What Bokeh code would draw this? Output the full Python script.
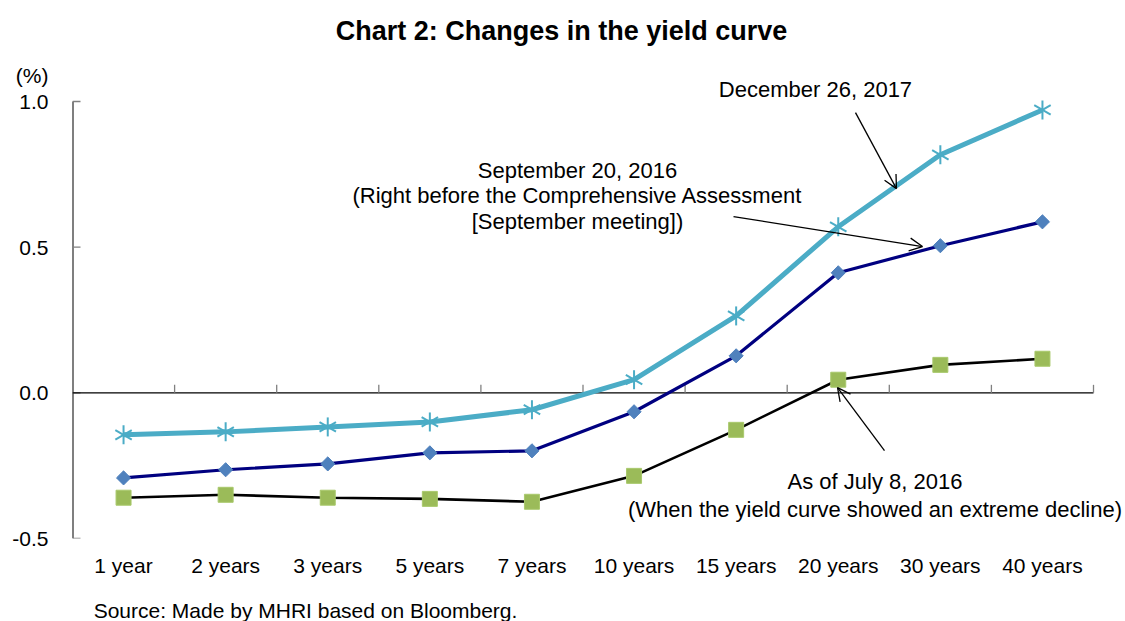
import math
from bokeh.plotting import figure
from bokeh.models import (Range1d, FixedTicker, Label, Arrow, OpenHead, LinearAxis)
from bokeh.embed import file_html
from bokeh.resources import INLINE

# ---------------- data ----------------
categories = ["1 year", "2 years", "3 years", "5 years", "7 years",
              "10 years", "15 years", "20 years", "30 years", "40 years"]
dec_2017 = [-0.144, -0.134, -0.117, -0.100, -0.058, 0.045, 0.264, 0.570, 0.817, 0.971]
sep_2016 = [-0.292, -0.264, -0.244, -0.206, -0.199, -0.065, 0.127, 0.412, 0.505, 0.587]
jul_2016 = [-0.360, -0.350, -0.360, -0.364, -0.374, -0.285, -0.127, 0.045, 0.096, 0.117]
y_ticks = [-0.5, 0.0, 0.5, 1.0]
y_tick_labels = ["-0.5", "0.0", "0.5", "1.0"]
y_unit = "(%)"
title_text = "Chart 2: Changes in the yield curve"
source_text = "Source: Made by MHRI based on Bloomberg."

FONT = "Liberation Sans"
n = len(categories)
xs = list(range(1, n + 1))

# layout constants (pixels)
PX_PER_X = 102.1          # one category
PX_PER_Y = 291.33         # one percentage point
FRAME_TOP_PAD = 101       # pixels above y = 1.0 inside the frame
RIGHT_PAD = 30            # pixels right of the last category boundary

y_max = y_ticks[-1] + FRAME_TOP_PAD / PX_PER_Y
x_max = n + 0.5 + RIGHT_PAD / PX_PER_X
frame_w = int(round((x_max - 0.5) * PX_PER_X))
frame_h = int(round((y_max - y_ticks[0]) * PX_PER_Y))

p = figure(frame_width=frame_w, frame_height=frame_h,
           x_range=Range1d(0.5, x_max), y_range=Range1d(y_ticks[0], y_max),
           output_backend="svg", toolbar_location=None, title="",
           min_border_left=72, min_border_right=0,
           min_border_top=0, min_border_bottom=0)
p.outline_line_color = None
p.grid.grid_line_color = None
p.background_fill_color = "white"
p.border_fill_color = "white"

# y axis: labels from the axis, axis line / ticks drawn from the tick values
unit_pos = y_ticks[-1] + (FRAME_TOP_PAD - 75) / PX_PER_Y
p.yaxis.ticker = FixedTicker(ticks=y_ticks + [unit_pos])
overrides = {t: l for t, l in zip(y_ticks, y_tick_labels)}
overrides[unit_pos] = y_unit
p.yaxis.major_label_overrides = overrides
p.yaxis.major_tick_line_color = None
p.yaxis.minor_tick_line_color = None
p.yaxis.axis_line_color = None
p.yaxis.major_tick_out = 0
p.yaxis.major_tick_in = 0
p.yaxis.major_label_standoff = 24
p.yaxis.major_label_text_font = FONT
p.yaxis.major_label_text_font_size = "21px"
p.yaxis.major_label_text_color = "black"

p.segment(x0=[0.5], x1=[0.5], y0=[y_ticks[0]], y1=[y_ticks[-1]],
          line_color="black", line_width=2)
p.segment(x0=[0.5] * len(y_ticks), x1=[0.5 + 8 / PX_PER_X] * len(y_ticks),
          y0=y_ticks, y1=y_ticks, line_color="#808080", line_width=1.3)

# x axis (category labels at the bottom)
p.xaxis.ticker = FixedTicker(ticks=xs)
p.xaxis.major_label_overrides = {x: c for x, c in zip(xs, categories)}
p.xaxis.axis_line_color = None
p.xaxis.major_tick_line_color = None
p.xaxis.minor_tick_line_color = None
p.xaxis.major_tick_out = 0
p.xaxis.major_tick_in = 0
p.xaxis.major_label_standoff = 15
p.xaxis.major_label_text_font = FONT
p.xaxis.major_label_text_font_size = "21px"
p.xaxis.major_label_text_color = "black"

# source line as a second bottom axis label
src_x = 1 + (305 - 123.05) / PX_PER_X
src_axis = LinearAxis(ticker=FixedTicker(ticks=[src_x]),
                      major_label_overrides={src_x: source_text},
                      axis_line_color=None, major_tick_line_color=None,
                      minor_tick_line_color=None, major_tick_out=0, major_tick_in=0,
                      major_label_standoff=19,
                      major_label_text_font=FONT, major_label_text_font_size="21px",
                      major_label_text_color="black")
p.add_layout(src_axis, "below")

# zero line with tick marks at category boundaries
p.segment(x0=[0.5], x1=[n + 0.5], y0=[0], y1=[0], line_color="black", line_width=1.2)
bounds = [x + 0.5 for x in xs]
p.segment(x0=bounds, x1=bounds, y0=[0] * n, y1=[8 / PX_PER_Y] * n,
          line_color="#808080", line_width=1.3)

# series
p.line(xs, jul_2016, line_color="black", line_width=2.6)
p.scatter(xs, jul_2016, marker="square", size=15, fill_color="#9BBB59",
          line_color="#A9C96C", line_width=1)

p.line(xs, sep_2016, line_color="#000080", line_width=3.2)
p.scatter(xs, sep_2016, marker="square", angle=math.pi / 4, size=10,
          fill_color="#4F81BD", line_color="#4F81BD")

p.line(xs, dec_2017, line_color="#4BACC6", line_width=5)
for ang in (math.pi / 2, math.pi / 6, -math.pi / 6):
    p.scatter(xs, dec_2017, marker="dash", angle=ang, size=19,
              line_color="#4BACC6", line_width=2)

# annotations
def lab(x, y, text, size="22px", align="center", bold=False):
    p.add_layout(Label(x=x, y=y, text=text,
                       text_align=align, text_baseline="middle",
                       text_font=FONT, text_font_size=size,
                       text_font_style="bold" if bold else "normal",
                       text_color="black"))

lab(5.289, 1.2436, title_text, size="27px", bold=True)
lab(7.777, 1.041, "December 26, 2017")
lab(5.446, 0.763, "September 20, 2016")
lab(5.446, 0.677, "(Right before the Comprehensive Assessment")
lab(5.446, 0.588, "[September meeting])")
lab(8.36, -0.3045, "As of July 8, 2016")
lab(8.36, -0.399, "(When the yield curve showed an extreme decline)")

arrows = [
    (8.169, 0.962, 8.570, 0.701),
    (6.974, 0.605, 8.825, 0.502),
    (8.453, -0.198, 7.993, 0.018),
]
for x0, y0, x1, y1 in arrows:
    p.add_layout(Arrow(end=OpenHead(size=13, line_width=1.3, line_color="black"),
                       x_start=x0, y_start=y0, x_end=x1, y_end=y1,
                       line_color="black", line_width=1.3))

open("out.html", "w").write(file_html(p, INLINE))
